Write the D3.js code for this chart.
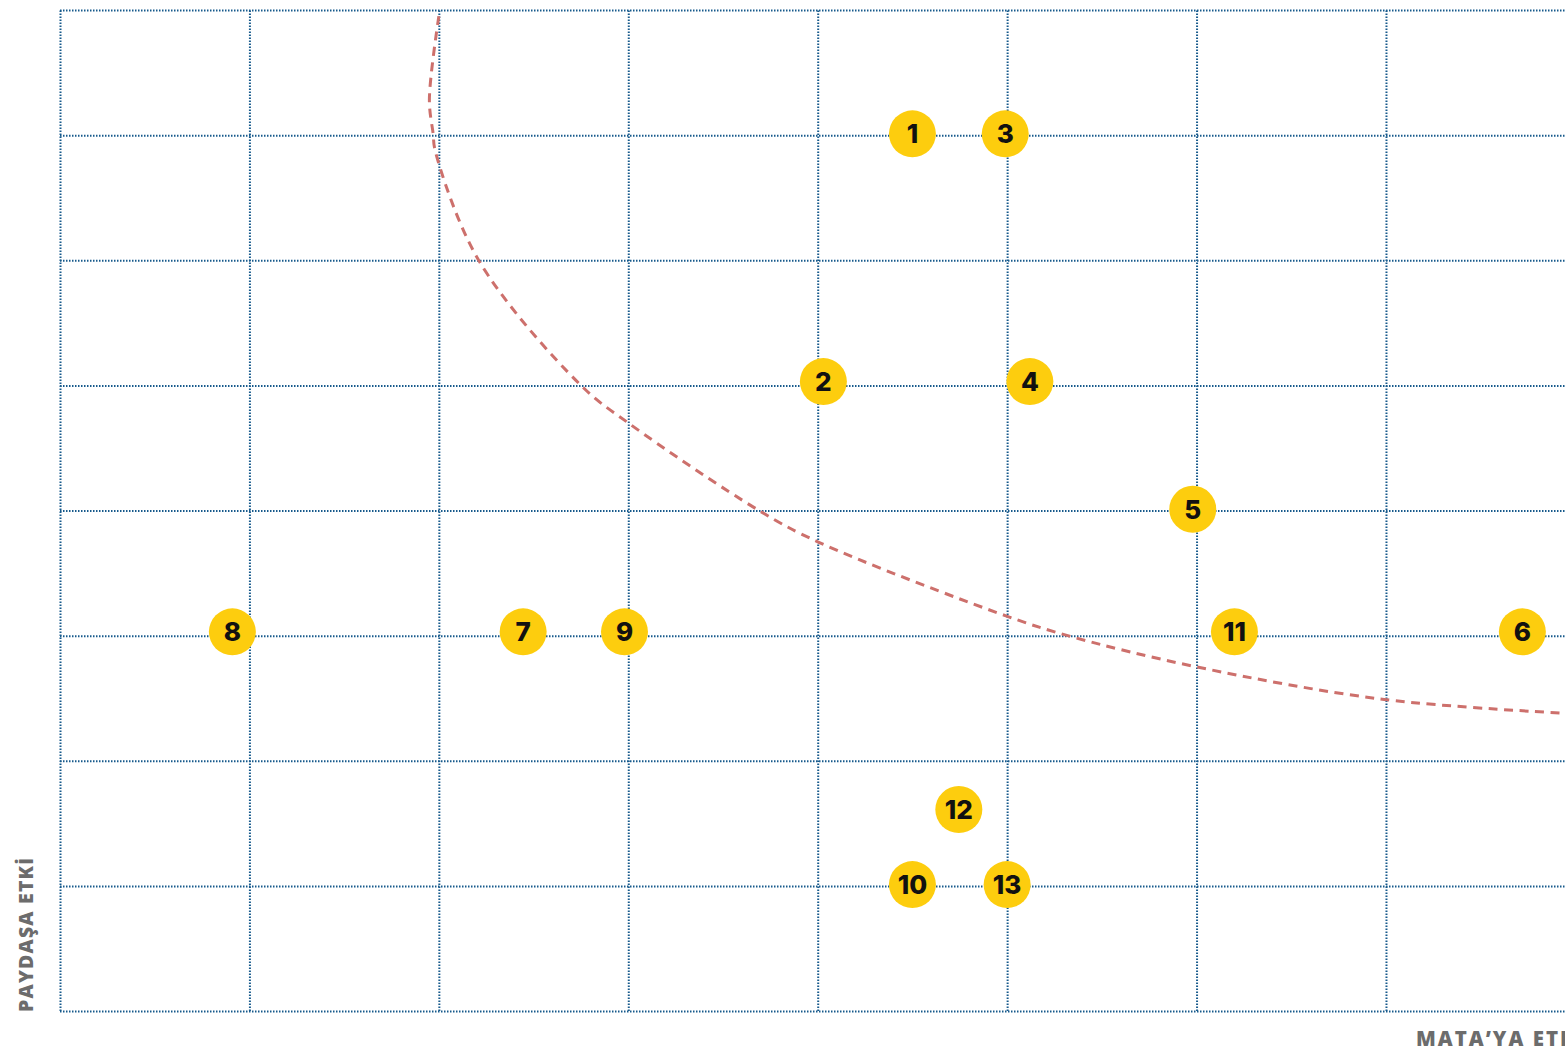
<!DOCTYPE html>
<html lang="tr">
<head>
  <meta charset="UTF-8">
  <title>Önceliklendirme Matrisi</title>
  <script src="https://d3js.org/d3.v7.min.js"></script>
  <style>
    html, body { margin: 0; padding: 0; background: #fff; overflow: hidden; }
  </style>
</head>
<body>
<script>
  // konu numaraları ve konumları (ızgara birimi)
  var ids   = ["1", "2", "3", "4", "5", "6", "7", "8", "9", "10", "11", "12", "13"];
  var xVals = [4.5, 4.03, 4.99, 5.12, 5.98, 7.72, 2.445, 0.91, 2.98, 4.5, 6.2, 4.745, 5.0];
  var yVals = [7.01, 5.03, 7.01, 5.03, 4.01, 3.03, 3.03, 3.03, 3.03, 1.01, 3.03, 1.61, 1.01];

  // kesikli eşik eğrisi
  var curveX = [2.0, 1.95, 1.97, 1.98, 2.21, 2.75, 3.0, 3.69, 4.0, 4.99, 5.32, 6.0, 6.99, 7.94];
  var curveY = [7.95, 7.28, 7.01, 6.88, 6.0, 5.0, 4.7, 4.0, 3.75, 3.16, 3.0, 2.75, 2.49, 2.38];

  var xTicks = [0, 1, 2, 3, 4, 5, 6, 7, 8];
  var yTicks = [0, 1, 2, 3, 4, 5, 6, 7, 8];

  var xLabel = "PAYDAŞA ETKİ";
  var yLabel = "MATA’YA ETKİ";

  var width = 1565, height = 1052;

  var svg = d3.select("body").append("svg")
    .attr("width", width)
    .attr("height", height);

  var x = d3.scaleLinear().domain([0, 8]).range([60, 1575.4]);
  var y = d3.scaleLinear().domain([0, 8]).range([1011, 10]);

  var gridColor = "#175a8c";

  // dikey ızgara
  svg.append("g")
    .attr("transform", "translate(0," + y(0) + ")")
    .call(d3.axisBottom(x).tickValues(xTicks).tickSize(-(y(0) - y(8))).tickFormat(""))
    .call(function(g) { g.select(".domain").remove(); })
    .call(function(g) {
      g.selectAll("line")
        .attr("stroke", gridColor)
        .attr("stroke-width", 2)
        .attr("stroke-dasharray", "1.5,1.5");
    });

  // yatay ızgara
  svg.append("g")
    .attr("transform", "translate(" + x(0) + ",0)")
    .call(d3.axisLeft(y).tickValues(yTicks).tickSize(-(x(8) - x(0))).tickFormat(""))
    .call(function(g) { g.select(".domain").remove(); })
    .call(function(g) {
      g.selectAll("line")
        .attr("stroke", gridColor)
        .attr("stroke-width", 2)
        .attr("stroke-dasharray", "1.5,1.5");
    });

  // eşik eğrisi
  var line = d3.line()
    .x(function(d, i) { return x(curveX[i]); })
    .y(function(d, i) { return y(curveY[i]); })
    .curve(d3.curveCatmullRom.alpha(0.5));

  svg.append("path")
    .datum(curveX)
    .attr("d", line)
    .attr("fill", "none")
    .attr("stroke", "#cd706c")
    .attr("stroke-width", 3)
    .attr("stroke-dasharray", "9,6.5");

  // numaralı noktalar
  var dots = svg.selectAll("g.dot")
    .data(ids)
    .enter().append("g")
    .attr("class", "dot")
    .attr("transform", function(d, i) {
      return "translate(" + x(xVals[i]) + "," + y(yVals[i]) + ")";
    });

  dots.append("circle")
    .attr("r", 23.5)
    .attr("fill", "#fdcd0e");

  dots.append("text")
    .attr("text-anchor", "middle")
    .attr("dy", "0.37em")
    .attr("font-family", "Inter, 'Open Sans', sans-serif")
    .attr("font-weight", 800)
    .attr("font-size", 26)
    .attr("fill", "#111")
    .text(function(d) { return d; });

  // eksen başlıkları
  svg.append("text")
    .attr("transform", "translate(33,1012) rotate(-90)")
    .attr("font-family", "'Open Sans', sans-serif")
    .attr("font-weight", 800)
    .attr("font-size", 19.5)
    .attr("letter-spacing", 1.2)
    .attr("fill", "#6c6c6c")
    .text(xLabel);

  svg.append("text")
    .attr("x", 1416)
    .attr("y", 1046)
    .attr("font-family", "'Open Sans', sans-serif")
    .attr("font-weight", 800)
    .attr("font-size", 20.5)
    .attr("letter-spacing", 2)
    .attr("fill", "#6c6c6c")
    .text(yLabel);
</script>
</body>
</html>
